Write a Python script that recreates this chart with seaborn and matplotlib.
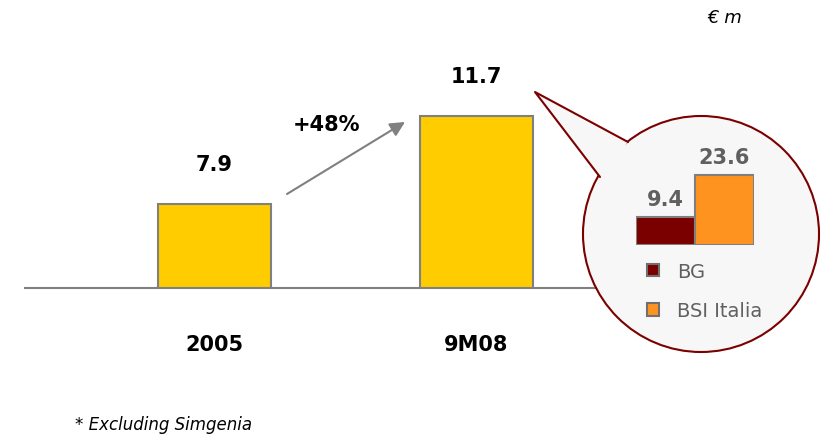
import matplotlib
matplotlib.use("Agg")
import matplotlib.pyplot as plt
import seaborn as sns
import pandas as pd
from matplotlib.patches import Circle, Polygon, Patch

# data
periods = ["2005", "9M08"]
values = [7.9, 11.7]
growth_label = "+48%"
split_names = ["BG", "BSI Italia"]
split_values = [9.4, 23.6]
unit_label = "€ m"
footnote = "* Excluding Simgenia"

sns.set_theme(style="white")
plt.rcParams['font.family'] = ['DejaVu Sans']

W, H = 823, 439
fig = plt.figure(figsize=(W / 100, H / 100), dpi=100)
fig.patch.set_facecolor("white")

def fig_box(left, top, right, bottom):
    return [left / W, (H - bottom) / H, (right - left) / W, (bottom - top) / H]

# main bars
ax = fig.add_axes(fig_box(25, 60, 640, 289))
df = pd.DataFrame({"period": periods, "value": values})
sns.barplot(data=df, x="period", y="value", color="#FFCC00", saturation=1,
            edgecolor="#808080", linewidth=1.5, width=0.431, ax=ax)
ax.set_xlim(-0.723, 1.624)
ax.set_ylim(4.27, 14.16)
for s in ["top", "left", "right"]:
    ax.spines[s].set_visible(False)
ax.spines["bottom"].set_color("#808080")
ax.spines["bottom"].set_linewidth(1.5)
ax.set_xticks([])
ax.set_yticks([])
ax.set_xlabel("")
ax.set_ylabel("")
ax.patch.set_alpha(0)
for i, v in enumerate(values):
    ax.annotate(f"{v:.1f}", (i, v), xytext=(0, 29), textcoords="offset points",
                ha="center", va="center", fontsize=15, fontweight="bold", color="black")
    ax.annotate(periods[i], (i, 4.27), xytext=(0, -40), textcoords="offset points",
                ha="center", va="center", fontsize=15, fontweight="bold", color="black")

# overlay in pixel coordinates
ov = fig.add_axes([0, 0, 1, 1])
ov.set_xlim(0, W)
ov.set_ylim(H, 0)
ov.axis("off")

bubble_fill = "#F7F7F7"
bubble_edge = "#7B0000"
ov.add_patch(Circle((701, 235), 118, facecolor=bubble_fill, edgecolor=bubble_edge, lw=1.5))
tip, p1, p2 = (535, 93), (628, 143), (600, 178)
ov.add_patch(Polygon([tip, p1, p2], closed=True, facecolor=bubble_fill, edgecolor="none"))
ov.plot([p1[0], tip[0], p2[0]], [p1[1], tip[1], p2[1]], color=bubble_edge, lw=1.5)

ov.annotate("", xy=(405, 123), xytext=(287, 195),
            arrowprops=dict(arrowstyle="-|>", color="#808080", lw=1.5,
                            mutation_scale=22, shrinkA=0, shrinkB=0))
ov.text(327, 125, growth_label, ha="center", va="center", fontsize=15,
        fontweight="bold", color="black")
ov.text(725, 18, unit_label, ha="center", va="center", fontsize=13,
        style="italic", color="black")
ov.text(75, 425, footnote, ha="left", va="center", fontsize=12,
        style="italic", color="black")

# inset bars
split_colors = ["#7A0000", "#FF9320"]
axi = fig.add_axes(fig_box(636, 146, 754, 246))
dfi = pd.DataFrame({"name": split_names, "value": split_values})
sns.barplot(data=dfi, x="name", y="value", hue="name", palette=split_colors,
            saturation=1, legend=False, edgecolor="#7F7F7F", linewidth=1.5,
            width=1.0, ax=axi)
axi.set_xlim(-0.5, 1.5)
axi.set_ylim(0, 33.7)
axi.axis("off")
for i, v in enumerate(split_values):
    axi.annotate(f"{v:.1f}", (i, v), xytext=(0, 13), textcoords="offset points",
                 ha="center", va="center", fontsize=15, fontweight="bold", color="#606060")

handles = [Patch(facecolor=c, edgecolor="#707070", lw=1.5) for c in split_colors]
leg = axi.legend(handles, split_names, loc="upper left",
                 bbox_to_anchor=(647 / W, (H - 263) / H), bbox_transform=fig.transFigure,
                 frameon=False, fontsize=14, handlelength=0.6, handleheight=0.6,
                 handletextpad=0.95, labelspacing=1.05, borderpad=0, borderaxespad=0)
for t in leg.get_texts():
    t.set_color("#606060")

fig.savefig("out.png", dpi=100, facecolor="white")
